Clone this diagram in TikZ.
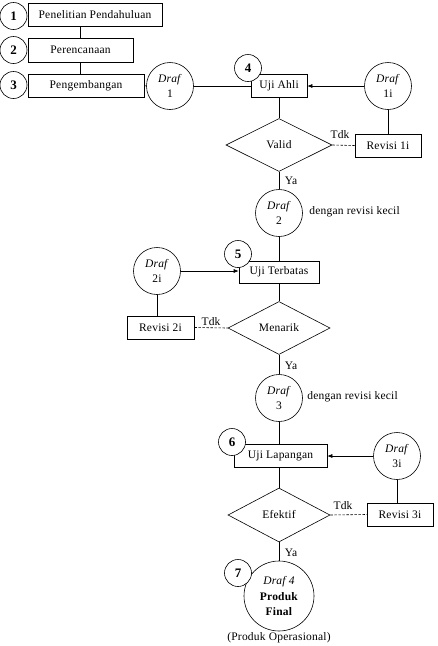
\documentclass[tikz,border=0pt]{standalone}
\usepackage{fontspec}
\setmainfont{Liberation Serif}[LetterSpace=2]
\usetikzlibrary{shapes.geometric,arrows.meta}
\begin{document}
\begin{tikzpicture}[x=1pt,y=-1pt,line width=0.6pt,
  every node/.style={font=\fontsize{11.5}{12.5}\selectfont},
  stepbox/.style={draw,rectangle,inner sep=0pt,fill=white},
  numc/.style={draw,circle,fill=white,minimum size=27pt,inner sep=0pt,font=\fontsize{13}{14}\selectfont\bfseries},
  drafc/.style={draw,circle,minimum size=47pt,inner sep=0pt,align=center,font=\fontsize{11.5}{14.5}\selectfont},
  decis/.style={draw,diamond,inner sep=0pt},
  lbl/.style={inner sep=0pt},
  arr/.style={-{Latex[length=5pt,width=4pt]}},
  dashln/.style={dash pattern=on 2.5pt off 1.5pt}
  ]
\useasboundingbox (0,0) rectangle (438,646);
% top column
\node[stepbox,minimum width=134pt,minimum height=23pt] (b1) at (95,14.5) {Penelitian Pendahuluan};
\node[stepbox,minimum width=105pt,minimum height=24pt] (b2) at (80.5,50) {Perencanaan};
\node[stepbox,minimum width=116pt,minimum height=23pt] (b3) at (86,85.5) {Pengembangan};
\node[numc] (n1) at (13.5,16) {1};
\node[numc] (n2) at (13.5,50) {2};
\node[numc] (n3) at (13.5,85) {3};
\draw (b2.north |- b1.south) -- (b2.north);
\draw (b2.south) -- (b2.south |- b3.north);
% Draf 1 and Uji Ahli
\node[drafc] (d1) at (170,86) {\textit{Draf}\\1};
\node[stepbox,minimum width=56pt,minimum height=23pt] (ua) at (279,85.5) {Uji Ahli};
\node[numc] (n4) at (248,68) {4};
\draw (b3.east) -- (d1.west);
\draw (d1.east) -- (ua.west |- d1.east);
\node[drafc] (d1i) at (388,86) {\textit{Draf}\\1i};
\draw[arr] (d1i.west) -- (ua.east |- d1i.west);
\node[decis,minimum width=106pt,minimum height=53pt] (valid) at (279,145) {Valid};
\node[stepbox,minimum width=66pt,minimum height=23pt] (r1i) at (388,145.5) {Revisi 1i};
\draw (ua.south) -- (valid.north);
\draw (d1i.south) -- (r1i.north);
\draw[dashln] (valid.east) -- (r1i.west);
\node[lbl] (t1) at (340,135) {Tdk};
\node[lbl] (y1) at (291,181) {Ya};
% Draf 2 and Uji Terbatas
\node[drafc] (d2) at (279,213) {\textit{Draf}\\2};
\node[lbl,anchor=west] (k2) at (309,212) {dengan revisi kecil};
\draw (valid.south) -- (d2.north);
\node[stepbox,minimum width=80pt,minimum height=22pt] (ut) at (279,272) {Uji Terbatas};
\node[numc] (n5) at (238,254) {5};
\draw (d2.south) -- (d2.south |- ut.north);
\node[drafc] (d2i) at (157,271) {\textit{Draf}\\2i};
\draw[arr] (d2i.east) -- (ut.west |- d2i.east);
\node[stepbox,minimum width=67pt,minimum height=23pt] (r2i) at (160.5,327.5) {Revisi 2i};
\draw (d2i.south) -- (d2i.south |- r2i.north);
\node[decis,minimum width=102pt,minimum height=53pt] (men) at (279,328) {Menarik};
\draw (ut.south -| men.north) -- (men.north);
\draw[dashln] (r2i.east) -- (men.west);
\node[lbl] (t2) at (211,322) {Tdk};
\node[lbl] (y2) at (291,366) {Ya};
% Draf 3 and Uji Lapangan
\node[drafc] (d3) at (279,398) {\textit{Draf}\\3};
\node[lbl,anchor=west] (k3) at (307,397) {dengan revisi kecil};
\draw (men.south) -- (d3.north);
\node[stepbox,minimum width=93pt,minimum height=23pt] (ul) at (280.5,455.5) {Uji Lapangan};
\node[numc] (n6) at (232,442) {6};
\draw (d3.south) -- (d3.south |- ul.north);
\node[drafc] (d3i) at (397,456) {\textit{Draf}\\3i};
\draw[arr] (d3i.west) -- (ul.east |- d3i.west);
\node[decis,minimum width=102pt,minimum height=54pt] (ef) at (279,515) {Efektif};
\draw (d3.south |- ul.south) -- (ef.north);
\node[stepbox,minimum width=66pt,minimum height=23pt] (r3i) at (400,514.5) {Revisi 3i};
\draw (d3i.south) -- (d3i.south |- r3i.north);
\draw[dashln] (ef.east) -- (r3i.west);
\node[lbl] (t3) at (343,506) {Tdk};
\node[lbl] (y3) at (291,553) {Ya};
% Final
\node[draw,circle,minimum size=70pt,inner sep=0pt,align=center,font=\fontsize{11.5}{15.5}\selectfont] (d4) at (279,596) {\textit{Draf 4}\\\textbf{Produk}\\\textbf{Final}};
\draw (ef.south) -- (d4.north);
\node[numc] (n7) at (238,573) {7};
\node[lbl] (po) at (279,638) {(Produk Operasional)};
\end{tikzpicture}
\end{document}
